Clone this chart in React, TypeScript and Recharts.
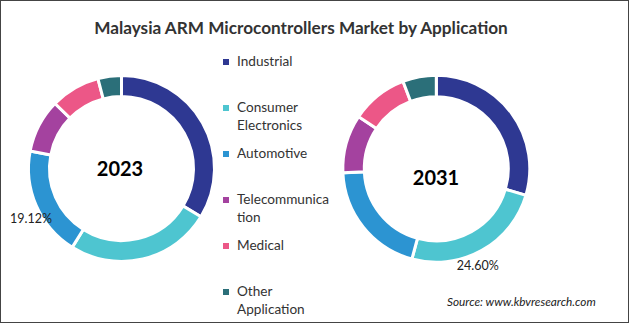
import { PieChart, Pie, Cell } from 'recharts';

const categories = ['Industrial', 'Consumer Electronics', 'Automotive', 'Telecommunication', 'Medical', 'Other Application'];
const legendLines = [['Industrial'], ['Consumer', 'Electronics'], ['Automotive'], ['Telecommunica', 'tion'], ['Medical'], ['Other', 'Application']];
const colors = ['#2E3892', '#4EC5D0', '#2C94D2', '#A4429F', '#EC5787', '#2B6F79'];
const values2023 = [33.7, 25.2, 19.12, 9.3, 8.6, 4.08];
const values2031 = [29.6, 24.6, 20.1, 10.1, 9.8, 5.8];
const labelIndex2023 = 2;
const labelIndex2031 = 1;

const data2023 = categories.map((name, i) => ({ name, value: values2023[i] }));
const data2031 = categories.map((name, i) => ({ name, value: values2031[i] }));

const FONT = 'Lato, "Open Sans", sans-serif';
const RAD = Math.PI / 180;

// only one slice per donut carries a percentage label
function makeLabel(only: number, dx: number, dy: number) {
    return (props: any) => {
        if (props.index !== only) return null;
        const r = props.outerRadius + 10;
        const x = props.cx + r * Math.cos(-props.midAngle * RAD) + dx;
        const y = props.cy + r * Math.sin(-props.midAngle * RAD) + dy;
        return (
            <text x={x} y={y} textAnchor="middle" dominantBaseline="central" fill="#222" fontSize={12.5} fontFamily={FONT}>
                {props.value.toFixed(2)}%
            </text>
        );
    };
}

export default function App() {
    return (
        <div style={{
            position: 'absolute', left: 0, top: 0, width: 629, height: 323,
            boxSizing: 'border-box', border: '1px solid #444', background: '#fff', fontFamily: FONT, overflow: 'hidden'
        }}>
            <div style={{ position: 'absolute', left: 0, top: 16, width: 600, textAlign: 'center', fontWeight: 700, fontSize: 17.2, color: '#333' }}>
                Malaysia ARM Microcontrollers Market by Application
            </div>

            <div style={{ position: 'absolute', left: -1, top: -1 }}>
                <PieChart width={629} height={323} margin={{ top: 0, right: 0, bottom: 0, left: 0 }}>
                    <Pie
                        data={data2023}
                        dataKey="value"
                        cx={121.5}
                        cy={168.5}
                        innerRadius={72}
                        outerRadius={93}
                        startAngle={90}
                        endAngle={-270}
                        stroke="#fff"
                        strokeWidth={3}
                        label={makeLabel(labelIndex2023, 4, 9)}
                        labelLine={false}
                        isAnimationActive={false}
                    >
                        {data2023.map((d, i) => <Cell key={d.name} fill={colors[i]} />)}
                    </Pie>
                    <Pie
                        data={data2031}
                        dataKey="value"
                        cx={436.3}
                        cy={168.7}
                        innerRadius={72}
                        outerRadius={93.5}
                        startAngle={90}
                        endAngle={-270}
                        stroke="#fff"
                        strokeWidth={3}
                        label={makeLabel(labelIndex2031, -9, 6)}
                        labelLine={false}
                        isAnimationActive={false}
                    >
                        {data2031.map((d, i) => <Cell key={d.name} fill={colors[i]} />)}
                    </Pie>
                </PieChart>
            </div>

            <div style={{ position: 'absolute', left: 69, top: 155, width: 100, textAlign: 'center', fontWeight: 700, fontSize: 20, color: '#000' }}>2023</div>
            <div style={{ position: 'absolute', left: 385, top: 164, width: 100, textAlign: 'center', fontWeight: 700, fontSize: 20, color: '#000' }}>2031</div>

            <div style={{ position: 'absolute', left: 222, top: 52 }}>
                {legendLines.map((lines, i) => (
                    <div key={i} style={{ height: 46, position: 'relative' }}>
                        <div style={{ position: 'absolute', left: 0, top: 6, width: 6, height: 6, background: colors[i] }} />
                        <div style={{ position: 'absolute', left: 14, top: 0, fontSize: 13.6, lineHeight: '17.5px', color: '#333', whiteSpace: 'nowrap' }}>
                            {lines.map((l) => <div key={l}>{l}</div>)}
                        </div>
                    </div>
                ))}
            </div>

            <div style={{ position: 'absolute', left: 446, top: 293, fontSize: 11.8, fontStyle: 'italic', color: '#222' }}>
                Source: www.kbvresearch.com
            </div>
        </div>
    );
}
